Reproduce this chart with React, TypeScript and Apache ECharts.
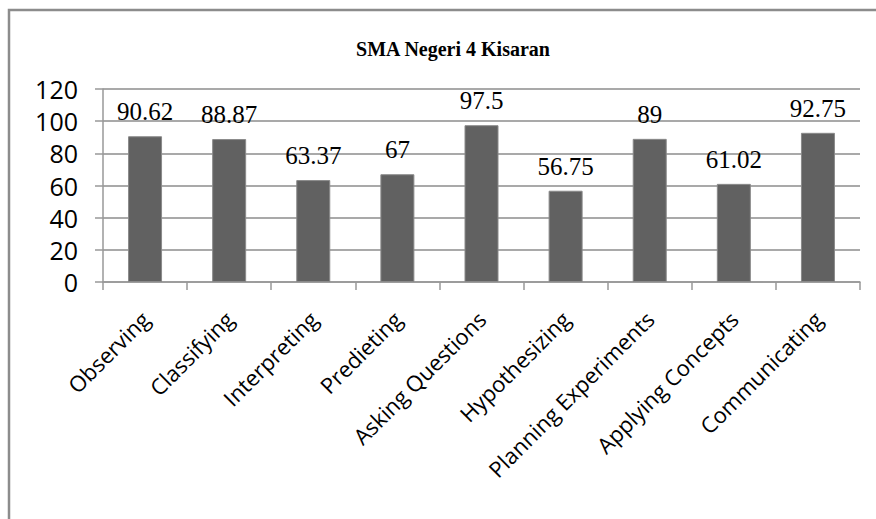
import React, { useEffect, useRef } from "react";
import * as echarts from "echarts";

const categories = [
  "Observing",
  "Classifying",
  "Interpreting",
  "Predieting",
  "Asking Questions",
  "Hypothesizing",
  "Planning Experiments",
  "Applying Concepts",
  "Communicating",
];
const values = [90.62, 88.87, 63.37, 67, 97.5, 56.75, 89, 61.02, 92.75];
const chartTitle = "SMA Negeri 4 Kisaran";

export default function App() {
  const ref = useRef<HTMLDivElement>(null);
  useEffect(() => {
    if (!ref.current) return;
    const chart = echarts.init(ref.current, null, { renderer: "svg" });
    chart.setOption({
      animation: false,
      backgroundColor: "#ffffff",
      title: {
        text: chartTitle,
        left: 448,
        textAlign: "center",
        top: 34,
        textStyle: {
          fontFamily: "'Liberation Serif', serif",
          fontWeight: "bold",
          fontSize: 20,
          color: "#000",
        },
      },
      graphic: [
        {
          type: "rect",
          shape: { x: 9, y: 10, width: 900, height: 540 },
          style: { fill: "none", stroke: "#8c8c8c", lineWidth: 2.5 },
          silent: true,
          z: 100,
        },
      ],
      grid: { left: 103, right: 16, top: 89, bottom: 237 },
      xAxis: {
        type: "category",
        data: categories,
        axisLine: { show: true, lineStyle: { color: "#999", width: 1.5 } },
        axisTick: { show: true, length: 8, alignWithLabel: false, lineStyle: { color: "#999", width: 1.5 } },
        axisLabel: {
          rotate: 45,
          interval: 0,
          margin: 33,
          fontFamily: "'Open Sans', sans-serif",
          fontSize: 22,
          color: "#000",
        },
      },
      yAxis: {
        type: "value",
        min: 0,
        max: 120,
        interval: 20,
        axisLine: { show: true, lineStyle: { color: "#999", width: 1.5 } },
        axisTick: { show: true, length: 8, lineStyle: { color: "#999", width: 1.5 } },
        splitLine: { show: true, lineStyle: { color: "#8c8c8c", width: 1.5 } },
        axisLabel: {
          margin: 25,
          fontFamily: "'Open Sans', sans-serif",
          fontSize: 25,
          color: "#000",
        },
      },
      series: [
        {
          type: "bar",
          data: values,
          barWidth: 34,
          itemStyle: { color: "#616161", borderColor: "#8a8a8a", borderWidth: 1 },
          label: {
            show: true,
            position: "top",
            distance: 12,
            fontFamily: "'Liberation Serif', serif",
            fontSize: 25,
            color: "#000",
          },
        },
      ],
    });
    return () => chart.dispose();
  }, []);
  return (
    <div
      ref={ref}
      style={{ position: "fixed", left: 0, top: 0, width: 876, height: 519 }}
    />
  );
}
